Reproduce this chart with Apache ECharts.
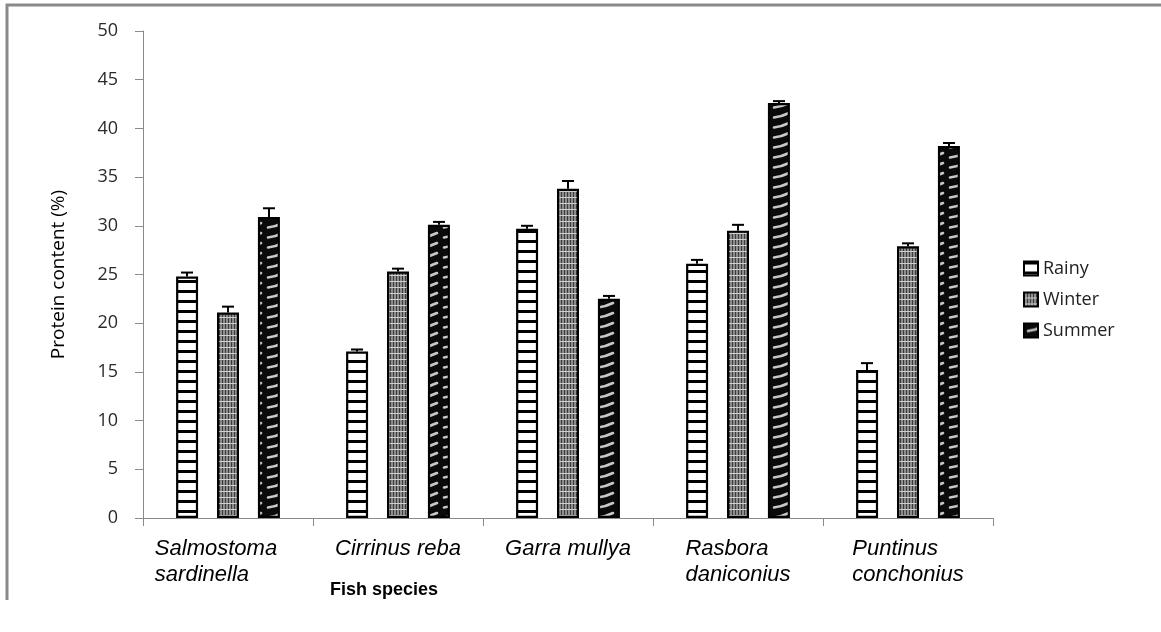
<!DOCTYPE html>
<html>
<head>
<meta charset="utf-8">
<script src="https://cdn.jsdelivr.net/npm/echarts@6/dist/echarts.min.js"></script>
<style>html,body{margin:0;padding:0;background:#fff;}#c{width:1161px;height:632px;}</style>
</head>
<body>
<div id="c"></div>
<script>
const categories = ['Salmostoma\nsardinella', 'Cirrinus reba', 'Garra mullya', 'Rasbora\ndaniconius', 'Puntinus\nconchonius'];
const seriesNames = ['Rainy', 'Winter', 'Summer'];
const rainy = [24.8, 17.1, 29.7, 26.1, 15.2];
const winter = [21.1, 25.3, 33.8, 29.5, 27.9];
const summer = [30.9, 30.1, 22.5, 42.6, 38.2];
const rainyErr = [0.4, 0.2, 0.3, 0.4, 0.7];
const winterErr = [0.6, 0.3, 0.8, 0.6, 0.3];
const summerErr = [0.9, 0.3, 0.3, 0.2, 0.3];
const yTicks = [0, 5, 10, 15, 20, 25, 30, 35, 40, 45, 50];

function pattern(type) {
  const c = document.createElement('canvas');
  const g = c.getContext('2d');
  if (type === 'rainy') {
    c.width = 10; c.height = 10;
    g.fillStyle = '#fff'; g.fillRect(0, 0, 10, 10);
    g.fillStyle = '#000'; g.fillRect(0, 0, 10, 3);
  } else if (type === 'winter') {
    c.width = 6; c.height = 6;
    g.fillStyle = '#8c8c8c'; g.fillRect(0, 0, 6, 6);
    g.fillStyle = '#3c3c3c'; g.fillRect(0, 0, 1, 6); g.fillRect(3, 0, 1, 6);
    g.fillStyle = '#d0d0d0'; g.fillRect(0, 5, 6, 1);
  } else {
    c.width = 22; c.height = 10;
    g.fillStyle = '#0a0a0a'; g.fillRect(0, 0, 22, 10);
    g.strokeStyle = '#c8c8c8'; g.lineWidth = 2.6; g.lineCap = 'round';
    g.beginPath(); g.moveTo(4, 7.5); g.quadraticCurveTo(12, 6.5, 19, 3); g.stroke();
  }
  return {image: c, repeat: 'repeat'};
}

const values = [rainy, winter, summer];
const errs = [rainyErr, winterErr, summerErr];
const pats = [pattern('rainy'), pattern('winter'), pattern('summer')];
const offsets = [-41, 0, 41];

const barSeries = seriesNames.map((n, i) => ({
  name: n, type: 'bar', data: values[i], barWidth: 22, barGap: '86%',
  itemStyle: {color: pats[i], borderColor: '#000', borderWidth: 2.2},
  z: 2
}));

const errSeries = seriesNames.map((n, i) => ({
  type: 'custom', name: n + ' err', z: 5,
  data: values[i].map((v, k) => [k, v, errs[i][k]]),
  renderItem: function (params, api) {
    const top = api.coord([api.value(0), api.value(1) + api.value(2)]);
    const base = api.coord([api.value(0), api.value(1)]);
    const x = top[0] + offsets[i];
    return {
      type: 'group',
      children: [
        {type: 'line', shape: {x1: x, y1: base[1], x2: x, y2: top[1]}, style: {stroke: '#000', lineWidth: 2}},
        {type: 'line', shape: {x1: x - 6, y1: top[1], x2: x + 6, y2: top[1]}, style: {stroke: '#000', lineWidth: 2}}
      ]
    };
  }
}));

// extra right spacer (px) for the first label so its block sits further left, like the reference
const labelShift = [24, 0, 0, 0, 0];

const chart = echarts.init(document.getElementById('c'));
chart.setOption({
  backgroundColor: '#fff',
  animation: false,
  graphic: [{
    type: 'polyline', shape: {points: [[7, 600], [7, 5], [1161, 5]]},
    style: {stroke: '#8a8a8a', lineWidth: 3, fill: null}
  }],
  title: {
    text: 'Fish species', left: 330, top: 581, padding: 0,
    textStyle: {fontFamily: 'Liberation Sans, Arial', fontWeight: 'bold', fontSize: 18, color: '#000'}
  },
  legend: {
    data: seriesNames, orient: 'vertical', left: 1018, top: 253, icon: 'rect',
    itemWidth: 14, itemHeight: 14, itemGap: 10,
    textStyle: {fontFamily: 'Open Sans', fontSize: 18, color: '#222', lineHeight: 21}
  },
  grid: {left: 143, right: 168, top: 31, bottom: 114},
  xAxis: {
    type: 'category', data: categories,
    axisLine: {lineStyle: {color: '#8a8a8a', width: 1}},
    axisTick: {show: true, length: 8, interval: 0, lineStyle: {color: '#8a8a8a'}},
    axisLabel: {
      interval: 0, margin: 18, align: 'center',
      formatter: (v, idx) => v.split('\n').map((s, j) => '{a|' + s + '}' + (j === 0 && labelShift[idx] ? '{s' + idx + '|}' : '')).join('\n'),
      rich: {
        a: {align: 'left', fontFamily: 'Liberation Sans, Arial', fontStyle: 'italic', fontSize: 22, lineHeight: 26, color: '#000'},
        s0: {align: 'left', width: 24, fontSize: 22, lineHeight: 26}
      }
    }
  },
  yAxis: {
    type: 'value', min: yTicks[0], max: yTicks[yTicks.length - 1], interval: 5,
    name: 'Protein content (%)', nameLocation: 'middle', nameGap: 75,
    nameTextStyle: {fontFamily: 'Open Sans', fontSize: 19, color: '#000'},
    axisLine: {show: true, lineStyle: {color: '#8a8a8a', width: 1}},
    axisTick: {show: true, length: 8, lineStyle: {color: '#8a8a8a'}},
    splitLine: {show: false},
    axisLabel: {margin: 25, fontFamily: 'Open Sans', fontSize: 18, color: '#2a2a2a'}
  },
  series: barSeries.concat(errSeries)
});
</script>
</body>
</html>
